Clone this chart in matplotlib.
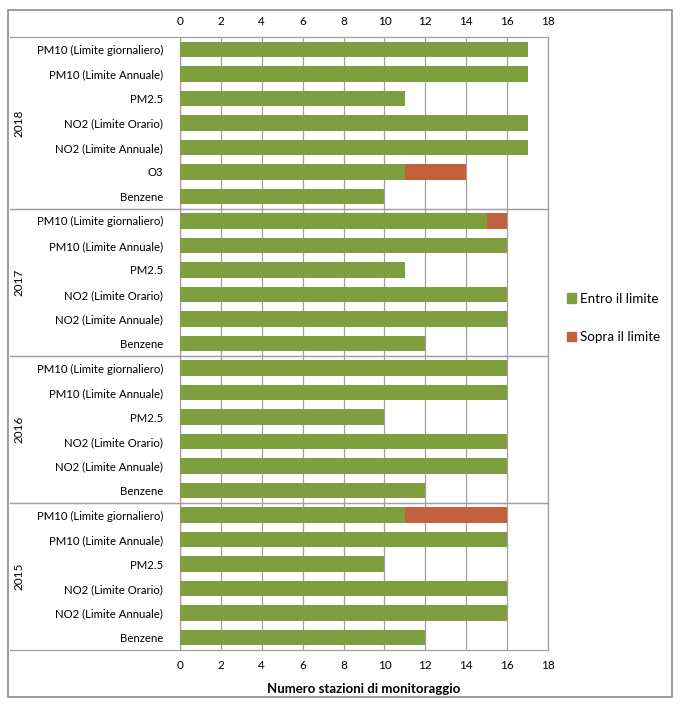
import matplotlib.pyplot as plt
from matplotlib.patches import Patch, Rectangle
from matplotlib.lines import Line2D
import numpy as np

plt.rcParams['font.family'] = ['Lato', 'DejaVu Sans']

years = ['2018', '2017', '2016', '2015']
cats = {
    '2018': ['PM10 (Limite giornaliero)', 'PM10 (Limite Annuale)', 'PM2.5',
             'NO2 (Limite Orario)', 'NO2 (Limite Annuale)', 'O3', 'Benzene'],
    '2017': ['PM10 (Limite giornaliero)', 'PM10 (Limite Annuale)', 'PM2.5',
             'NO2 (Limite Orario)', 'NO2 (Limite Annuale)', 'Benzene'],
    '2016': ['PM10 (Limite giornaliero)', 'PM10 (Limite Annuale)', 'PM2.5',
             'NO2 (Limite Orario)', 'NO2 (Limite Annuale)', 'Benzene'],
    '2015': ['PM10 (Limite giornaliero)', 'PM10 (Limite Annuale)', 'PM2.5',
             'NO2 (Limite Orario)', 'NO2 (Limite Annuale)', 'Benzene'],
}
entro = {
    '2018': [17, 17, 11, 17, 17, 11, 10],
    '2017': [15, 16, 11, 16, 16, 12],
    '2016': [16, 16, 10, 16, 16, 12],
    '2015': [11, 16, 10, 16, 16, 12],
}
sopra = {
    '2018': [0, 0, 0, 0, 0, 3, 0],
    '2017': [1, 0, 0, 0, 0, 0],
    '2016': [0, 0, 0, 0, 0, 0],
    '2015': [5, 0, 0, 0, 0, 0],
}

green = '#7f9f3e'
red = '#c3613f'
gridc = '#a0a0a0'

labels = []
v_in = []
v_out = []
group_bounds = []
for y in years:
    start = len(labels)
    labels += cats[y]
    v_in += entro[y]
    v_out += sopra[y]
    group_bounds.append((start, len(labels)))
v_in = np.array(v_in)
v_out = np.array(v_out)
pos = np.arange(len(labels))

fig = plt.figure(figsize=(6.81, 7.05), dpi=100)
W, H = 681, 705
ax = fig.add_axes([180 / W, 1 - 650 / H, 368 / W, 613 / H])

ax.barh(pos, v_in, height=0.63, color=green, zorder=3)
ax.barh(pos, v_out, left=v_in, height=0.63, color=red, zorder=3)

ax.set_xlim(0, 18)
ax.set_ylim(len(labels) - 0.5, -0.5)
ax.set_xticks(np.arange(0, 19, 2))
ax.set_yticks(pos)
ax.set_yticklabels(labels, fontsize=8.2)
ax.tick_params(axis='x', labeltop=True, labelbottom=True, length=0,
               labelsize=8.5, pad=7)
ax.tick_params(axis='y', length=0, pad=12)
ax.xaxis.grid(True, color=gridc, linewidth=0.9, zorder=0)
for s in ['left', 'right']:
    ax.spines[s].set_color(gridc)
    ax.spines[s].set_linewidth(0.9)
for s in ['top', 'bottom']:
    ax.spines[s].set_visible(False)

ax.set_xlabel('Numero stazioni di monitoraggio', fontsize=9.5,
              fontweight='bold', labelpad=9)

# group separators and year labels
x_left = (10 - 180) / 368 * 18
for (a, b), y in zip(group_bounds, years):
    for edge in (a - 0.5, b - 0.5):
        ax.add_line(Line2D([x_left, 18], [edge, edge], color=gridc,
                           linewidth=0.9, clip_on=False))
    ax.text((19 - 180) / 368 * 18, (a + b - 1) / 2, y, rotation=90,
            ha='center', va='center', fontsize=8.5)

# outer frame
fig.patches.append(Rectangle((8 / W, 1 - 697 / H), 664 / W, 687 / H,
                             transform=fig.transFigure, fill=False,
                             edgecolor='#8c8c8c', linewidth=1.2))

handles = [Patch(color=green, label='Entro il limite'),
           Patch(color=red, label='Sopra il limite')]
fig.legend(handles=handles, loc='center left',
           bbox_to_anchor=(555 / W, 1 - 318 / H), frameon=False,
           fontsize=9.6, handlelength=0.7, handleheight=0.7,
           handletextpad=0.3, labelspacing=2.0)

fig.savefig('out.png', dpi=100)
